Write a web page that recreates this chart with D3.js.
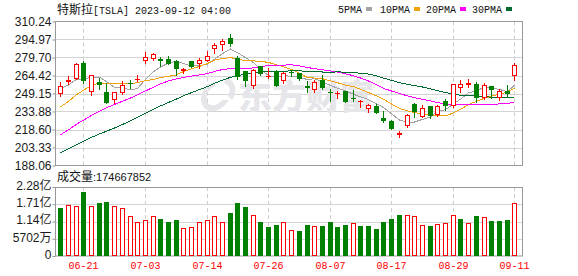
<!DOCTYPE html>
<html><head><meta charset="utf-8">
<script src="https://cdn.jsdelivr.net/npm/d3@7"></script>
<style>body{margin:0;background:#fff}svg{display:block}</style>
</head><body>
<svg id="c" width="578" height="276"></svg>
<script>
// ---------------- DATA ----------------
const dates = ["06-15","06-16","06-20","06-21","06-22","06-23","06-26","06-27","06-28","06-29",
"06-30","07-03","07-05","07-06","07-07","07-10","07-11","07-12","07-13","07-14",
"07-17","07-18","07-19","07-20","07-21","07-24","07-25","07-26","07-27","07-28",
"07-31","08-01","08-02","08-03","08-04","08-07","08-08","08-09","08-10","08-11",
"08-14","08-15","08-16","08-17","08-18","08-21","08-22","08-23","08-24","08-25",
"08-28","08-29","08-30","08-31","09-01","09-05","09-06","09-07","09-08","09-11"];
const open = [248.40,258.92,261.50,275.13,250.77,259.29,250.07,243.24,249.70,258.03,
260.60,276.49,278.82,278.09,278.43,276.47,268.65,276.33,274.59,277.01,
286.63,290.15,296.04,279.56,268.00,255.85,272.38,263.66,268.31,259.86,
267.48,266.26,255.57,252.04,260.97,250.60,248.42,250.87,245.40,241.77,
235.70,238.73,228.02,226.06,214.12,221.55,240.25,229.34,238.66,231.31,
242.58,238.58,254.20,255.98,257.26,245.00,255.14,245.07,251.22,264.27];
const high = [258.95,263.60,274.75,276.99,265.00,262.45,258.37,250.39,259.88,260.74,
264.45,284.25,283.85,279.97,280.78,277.52,270.90,276.52,279.45,285.30,
292.23,295.26,299.29,280.93,268.00,269.85,272.90,271.00,269.13,267.25,
269.08,266.47,259.52,260.49,264.77,252.90,250.92,251.10,251.80,243.79,
240.66,240.50,233.97,226.74,217.58,232.13,240.82,238.98,238.92,239.00,
244.38,257.48,260.51,261.18,259.08,258.00,255.39,252.81,256.52,274.85];
const low = [247.29,257.21,261.12,257.78,248.25,252.80,240.70,240.85,248.89,253.61,
259.89,275.11,277.60,272.88,273.77,265.10,266.37,271.46,270.60,276.31,
283.57,286.01,289.52,261.20,255.80,254.12,265.00,262.60,255.30,258.23,
263.78,260.25,250.49,250.33,253.11,242.76,245.01,241.90,243.13,238.02,
233.75,232.61,225.38,218.83,212.36,220.58,229.55,229.29,228.18,230.35,
235.35,237.77,250.59,255.05,242.01,244.86,245.06,243.27,247.40,260.61];
const close = [255.90,260.54,274.45,259.46,264.61,256.60,241.05,250.21,256.24,257.50,
261.77,279.82,282.48,276.54,274.43,269.61,269.79,271.99,277.90,281.38,
290.38,293.34,291.26,262.90,260.02,269.06,265.28,264.35,255.71,266.44,
267.43,261.07,254.11,259.32,253.86,250.40,249.70,242.19,245.34,242.65,
239.76,232.96,225.60,219.22,215.49,231.28,233.19,236.86,230.04,238.59,
238.82,257.18,256.90,258.08,245.01,256.49,251.92,251.49,248.50,273.58];
const prevClose = 256.79; // close of the day before the first candle
const volume = [160171200,167563700,165611200,211797100,166875900,176584100,179990600,164968200,159770800,131283400,
112267600,119685900,131530900,120708400,113602000,119425400,91972400,95672100,112681500,119771100,
131569600,112434700,142355400,175158300,161050100,136508500,112757300,95856200,103697300,111446000,
84582200,83166000,101752900,97569100,99242600,111097900,96642200,101596300,109498600,98866600,
98595300,88197600,112484500,120941100,136276600,135702700,130597900,101077600,99777400,106612200,
107673700,134047600,121988400,108861700,132272500,129469600,116959800,115312900,117485000,174667852];
const ma5 = [253.13,256.35,261.28,261.43,262.99,263.13,259.23,254.39,253.74,252.32,
253.35,261.11,267.56,271.62,275.01,276.58,274.57,272.47,272.74,274.13,
278.29,283.00,286.85,283.85,279.58,275.32,269.70,264.32,262.88,264.17,
263.84,263.00,260.95,261.67,259.16,255.96,253.69,251.30,248.51,246.27,
243.93,240.58,237.26,232.04,226.61,224.91,224.96,227.21,229.37,233.99,
235.50,240.30,244.31,249.91,251.20,254.73,253.68,252.60,250.68,256.40];
const ma10 = [237.80,242.45,248.14,251.95,255.96,258.13,257.79,257.83,257.59,257.66,
258.24,260.17,260.97,262.68,263.66,264.97,267.84,270.02,272.18,274.57,
277.43,278.78,279.66,278.30,276.86,276.80,276.35,275.59,273.37,271.87,
269.58,266.35,262.64,262.28,261.66,259.90,258.34,256.13,255.09,252.71,
249.95,247.13,244.28,240.27,236.44,234.42,232.77,232.24,230.71,230.30,
230.21,232.63,235.76,239.64,242.60,245.12,246.99,248.45,250.30,253.80];
const ma20 = [214.14,218.32,223.04,226.57,230.51,234.19,237.02,239.87,242.63,245.31,
248.02,251.31,254.56,257.32,259.81,261.55,262.82,263.92,264.88,266.11,
267.84,269.48,270.32,270.49,270.26,270.88,272.10,272.80,272.78,273.22,
273.51,272.57,271.15,270.29,269.26,268.35,267.35,265.86,264.23,262.29,
259.76,256.74,253.46,251.28,249.05,247.16,245.56,244.18,242.90,241.51,
240.08,239.88,240.02,239.96,239.52,239.77,239.88,240.34,240.50,242.05];
const ma30 = [199.01,202.32,205.80,208.72,211.91,214.84,217.14,219.88,222.88,225.91,
228.84,232.27,235.68,238.60,241.56,244.45,247.29,249.92,252.48,255.06,
257.82,260.47,262.92,264.31,265.49,266.63,267.33,267.81,267.71,268.03,
268.42,268.44,267.76,267.75,267.39,267.22,267.51,267.24,266.88,266.39,
265.65,264.09,262.19,260.28,258.32,257.04,255.82,254.65,253.05,251.63,
249.91,248.70,247.56,247.40,246.90,246.48,246.03,245.61,245.36,245.60];
const priceTicks = [188.06,203.33,218.60,233.88,249.15,264.42,279.70,294.97,310.24];
const volTicks = [0,57020000,114040000,171060000,228080000];
const volTickLabels = ["0","5702万","1.14亿","1.71亿","2.28亿"];
const xLabelDates = ["06-21","07-03","07-14","07-26","08-07","08-17","08-29","09-11"];
const seriesNames = ["5PMA","10PMA","20PMA","30PMA"];
const titleName = "特斯拉", titleRest = "[TSLA] 2023-09-12 04:00";
const volTitle = "成交量", volValue = ":174667852";

// ---------------- LAYOUT ----------------
const RED = "#ff0000", GREEN = "#008000";
const maColors = ["#a3a3a3", "#f0a30a", "#ff00ff", "#006b30"];
const L = 55.5, R = 522.5;
const PT = 21.5, PB = 165.5;
const VT = 187, VB = 256;
const svg = d3.select("#c");

const x = d3.scaleBand().domain(dates).range([56.45, 518.15]).padding(0);
const cx = d => Math.round(x(d) + x.bandwidth() / 2);
const y = d3.scaleLinear().domain([priceTicks[0], priceTicks[priceTicks.length - 1]]).range([PB, PT]);
const yv = d3.scaleLinear().domain([0, volTicks[volTicks.length - 1]]).range([VB, VT]);

// grid
const grid = svg.append("g");
grid.selectAll("line.h").data(priceTicks.slice(1, -1)).join("line")
  .attr("x1", L).attr("x2", R).attr("y1", d => Math.round(y(d)) + 0.5).attr("y2", d => Math.round(y(d)) + 0.5)
  .attr("stroke", "#d4d4d4");
grid.selectAll("line.hv").data(volTicks.slice(1, -1)).join("line")
  .attr("x1", L).attr("x2", R).attr("y1", d => Math.round(yv(d)) + 0.5).attr("y2", d => Math.round(yv(d)) + 0.5)
  .attr("stroke", "#d4d4d4");
xLabelDates.forEach(d => {
  [[PT, PB], [VT, VB]].forEach(([a, b]) => {
    grid.append("line").attr("x1", cx(d) + 0.5).attr("x2", cx(d) + 0.5).attr("y1", a).attr("y2", b)
      .attr("stroke", "#cccccc").attr("stroke-dasharray", "4,3");
  });
});

// watermark
const wm = svg.append("g").attr("fill", "#e6e6ea");
wm.append("path").attr("d", "M214,82 C200,86 197,104 207,110 C214,114 224,108 229,100 L222,100 C218,106 211,107 208,103 C204,97 208,88 216,86 Z M226,78 C236,80 238,92 232,100 L228,96 C231,90 230,85 224,83 Z");
wm.append("text").attr("x", 238).attr("y", 109).attr("font-family", "Noto Sans CJK SC")
  .attr("font-weight", 900).attr("font-size", 34).text("东方财富");

// axes
const fontSans = "'Liberation Sans', Arial, sans-serif";
const fontMono = "'Liberation Mono', 'DejaVu Sans Mono', monospace";
const axP = svg.append("g").attr("transform", `translate(${L},0)`)
  .call(d3.axisLeft(y).tickValues(priceTicks).tickFormat(d3.format(".2f")).tickSize(3).tickPadding(1).tickSizeOuter(0));
const axV = svg.append("g").attr("transform", `translate(${L},0)`)
  .call(d3.axisLeft(yv).tickValues(volTicks).tickFormat((d, i) => volTickLabels[i]).tickSize(3).tickPadding(1).tickSizeOuter(0));
[axP, axV].forEach(a => {
  a.select(".domain").remove();
  a.selectAll(".tick line").attr("stroke", "#999");
  a.selectAll(".tick text").attr("fill", "#1a1a1a").attr("font-family", fontSans + ", 'Noto Sans CJK SC'").attr("font-size", 12);
});
axV.selectAll(".tick text").attr("dy", "0.2em");

// frames
svg.append("rect").attr("x", L).attr("y", PT).attr("width", R - L).attr("height", PB - PT).attr("fill", "none").attr("stroke", "#999");
svg.append("rect").attr("x", L).attr("y", VT + 0.5).attr("width", R - L).attr("height", VB - VT - 0.5).attr("fill", "none").attr("stroke", "#999");

// MA lines
[ma5, ma10, ma20, ma30].forEach((s, k) => {
  svg.append("path").datum(s)
    .attr("d", d3.line().x((d, i) => cx(dates[i]) + 0.5).y(d => y(d)))
    .attr("fill", "none").attr("stroke", maColors[k]).attr("stroke-width", 1).attr("shape-rendering", "crispEdges");
});

// candles
const cg = svg.append("g");
dates.forEach((d, i) => {
  const up = close[i] >= open[i];
  const col = up ? RED : GREEN;
  const c = cx(d);
  cg.append("line").attr("x1", c + 0.5).attr("x2", c + 0.5)
    .attr("y1", Math.round(y(high[i]))).attr("y2", Math.round(y(low[i])) + 1).attr("stroke", col);
  const top = Math.round(y(Math.max(open[i], close[i])));
  const bot = Math.round(y(Math.min(open[i], close[i])));
  const h = Math.max(1, bot - top);
  if (up && h > 2) {
    cg.append("rect").attr("x", c - 1.5).attr("y", top + 0.5).attr("width", 4).attr("height", h - 1)
      .attr("fill", "#fff").attr("stroke", col);
  } else {
    cg.append("rect").attr("x", c - 2).attr("y", top).attr("width", 5).attr("height", h).attr("fill", col);
  }
});

// volume bars
const vg = svg.append("g");
dates.forEach((d, i) => {
  const prev = i === 0 ? prevClose : close[i - 1];
  const up = close[i] >= prev;
  const c = cx(d);
  const t = Math.round(yv(volume[i]));
  if (up) {
    vg.append("rect").attr("x", c - 1.5).attr("y", t + 0.5).attr("width", 4).attr("height", VB - t - 1)
      .attr("fill", "#fff").attr("stroke", RED);
  } else {
    vg.append("rect").attr("x", c - 2).attr("y", t).attr("width", 5).attr("height", VB - t).attr("fill", GREEN);
  }
});

// x labels
svg.selectAll("text.xl").data(xLabelDates).join("text")
  .attr("x", d => cx(d) + 0.5).attr("y", 269).attr("text-anchor", "middle")
  .attr("font-family", fontMono).attr("font-size", 10).attr("fill", RED).text(d => d);

// title
const tt = svg.append("text").attr("x", 57).attr("y", 14).attr("fill", "#111");
tt.append("tspan").attr("font-family", "'Noto Sans CJK SC'").attr("font-size", 12).text(titleName);
tt.append("tspan").attr("font-family", fontMono).attr("font-size", 10).text(titleRest);

// volume title
const vt = svg.append("text").attr("x", 57).attr("y", 181).attr("fill", "#111");
vt.append("tspan").attr("font-family", "'Noto Sans CJK SC'").attr("font-size", 12).text(volTitle);
vt.append("tspan").attr("font-family", fontSans).attr("font-size", 11).text(volValue);

// legend
const legX = [338, 380, 426, 472];
seriesNames.forEach((n, k) => {
  const t = svg.append("text").attr("x", legX[k]).attr("y", 13).attr("font-family", fontMono)
    .attr("font-size", 10).attr("fill", "#111").text(n);
  const w = t.node().getComputedTextLength();
  svg.append("rect").attr("x", Math.round(legX[k] + w + 4)).attr("y", 7).attr("width", 6).attr("height", 4).attr("fill", maColors[k]);
});
</script>
</body></html>
